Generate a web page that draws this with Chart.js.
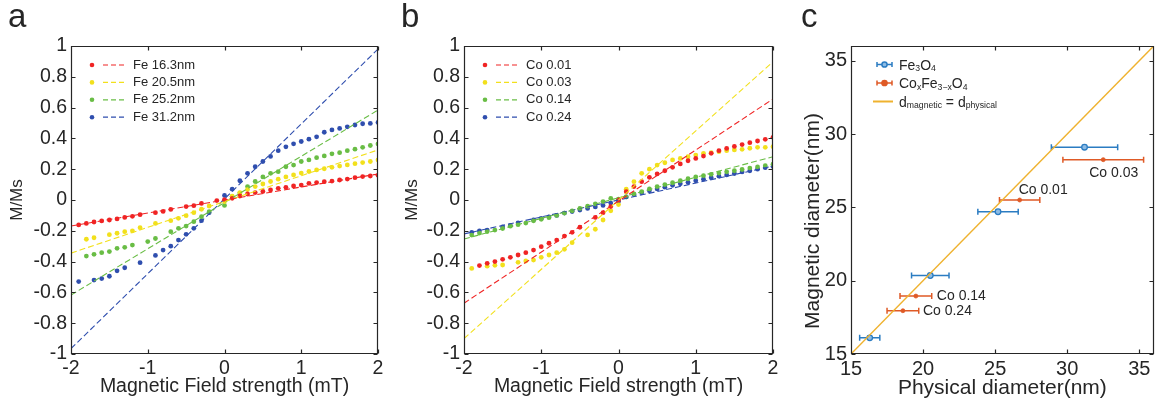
<!DOCTYPE html>
<html>
<head>
<meta charset="utf-8">
<script src="https://cdn.jsdelivr.net/npm/chart.js@4.4.1/dist/chart.umd.min.js"></script>
<style>
  body { margin: 0; background: #fff; }
  #wrap { position: relative; width: 1159px; height: 406px; overflow: hidden; font-family: "Liberation Sans", Arial, sans-serif; }
  canvas { position: absolute; top: 0; }
  .lbl { position: absolute; top: 0; font-size: 33px; line-height: 32px; color: #262626; }
</style>
</head>
<body>
<div id="wrap">
  <canvas id="ca" width="390" height="406" style="left:0px"></canvas>
  <canvas id="cb" width="390" height="406" style="left:395px"></canvas>
  <canvas id="cc" width="379" height="406" style="left:780px"></canvas>
  <div class="lbl" style="left:8px">a</div>
  <div class="lbl" style="left:401px">b</div>
  <div class="lbl" style="left:801px">c</div>
</div>
<script>
// field values (mT) shared by panels a and b
const field = [-1.9,-1.8,-1.7,-1.6,-1.5,-1.4,-1.3,-1.2,-1.1,-1.0,-0.9,-0.8,-0.7,-0.6,-0.5,-0.4,-0.3,-0.2,-0.1,
  0,
  0.1,0.2,0.3,0.4,0.5,0.6,0.7,0.8,0.9,1.0,1.1,1.2,1.3,1.4,1.5,1.6,1.7,1.8,1.9,2.0];

// panel a: M/Ms for Fe3O4 sizes
const namesA = ['Fe 16.3nm', 'Fe 20.5nm', 'Fe 25.2nm', 'Fe 31.2nm'];
const fe163 = [-0.162,-0.152,-0.143,-0.136,-0.130,-0.123,-0.113,-0.106,-0.095,null,-0.082,-0.074,-0.061,null,-0.043,-0.037,-0.022,null,-0.004,
  0.003,
  0.011,0.026,0.039,0.048,0.056,0.065,0.076,0.082,0.091,0.097,0.108,0.113,0.119,0.123,0.130,0.136,0.145,0.152,0.156,0.160];
const fe205 = [null,-0.255,-0.245,null,-0.225,-0.216,-0.206,-0.200,-0.180,null,-0.152,null,-0.134,-0.119,-0.102,-0.082,-0.060,-0.039,null,
  -0.010,
  0.025,0.048,0.068,0.087,0.104,0.120,0.135,0.150,0.163,0.175,0.185,0.195,0.203,0.212,0.220,0.228,0.236,0.243,0.250,0.260];
const fe252 = [null,-0.364,-0.353,-0.342,-0.335,-0.314,-0.307,-0.293,null,-0.270,-0.250,null,-0.206,-0.184,-0.169,-0.141,-0.108,-0.076,null,
  -0.035,
  0.022,0.045,0.087,0.120,0.150,0.173,0.184,0.216,0.227,0.250,0.260,0.275,0.286,0.300,0.307,0.320,0.330,0.342,0.354,0.364];
const fe312 = [-0.530,null,-0.520,-0.510,-0.495,-0.460,-0.440,null,-0.407,null,-0.360,-0.325,-0.300,-0.260,-0.223,-0.184,-0.134,-0.082,null,
  0.030,
  0.070,0.125,0.173,0.216,0.250,0.283,0.320,0.345,0.365,0.380,0.395,0.410,0.440,0.455,0.465,0.475,0.487,0.495,0.497,0.504];

// panel b: M/Ms for Co doped
const namesB = ['Co 0.01', 'Co 0.03', 'Co 0.14', 'Co 0.24'];
const co001 = [null,-0.426,-0.411,-0.400,-0.385,-0.372,-0.357,-0.342,-0.325,-0.303,-0.281,-0.260,-0.234,-0.210,-0.177,null,-0.113,-0.082,-0.043,
  0.000,
  0.054,0.087,0.119,0.147,0.169,0.190,0.212,0.234,0.255,0.270,0.285,0.303,0.320,0.335,0.348,0.360,0.372,0.383,0.394,0.407];
const co003 = [-0.444,null,-0.430,-0.424,-0.422,null,-0.405,-0.396,-0.390,-0.372,-0.357,-0.342,-0.320,-0.277,null,-0.227,-0.190,-0.130,-0.070,
  -0.030,
  0.070,0.119,0.173,0.200,0.227,0.242,0.260,0.270,0.281,0.292,0.303,0.307,0.314,0.320,0.325,0.329,0.336,0.342,0.342,0.346];
const co014 = [-0.228,-0.215,-0.205,-0.195,-0.185,-0.170,-0.160,-0.150,-0.135,-0.125,-0.115,-0.100,-0.085,-0.070,-0.055,-0.040,-0.025,-0.010,0.010,
  0.005,
  0.020,0.040,0.055,0.072,0.087,0.100,0.112,0.125,0.138,0.150,0.158,0.167,0.175,0.183,0.190,0.198,0.207,0.215,0.223,0.232];
const co024 = [-0.210,-0.200,-0.195,null,-0.175,-0.165,-0.148,null,-0.130,-0.120,-0.110,-0.100,-0.085,-0.075,-0.065,-0.055,-0.045,-0.035,-0.020,
  -0.010,
  0.020,0.035,0.047,0.060,0.072,0.083,0.095,0.105,0.115,0.125,0.135,0.145,0.155,0.163,0.172,0.182,0.190,0.200,0.210,0.218];

// linear fits, values at the ends of the field range
const fitField = [-2, 2];
const fitA = [[-0.169, 0.169], [-0.345, 0.325], [-0.617, 0.584], [-0.965, 0.98]];
const fitB = [[-0.67, 0.656], [-0.9, 0.898], [-0.253, 0.281], [-0.22, 0.22]];

// ticks
const fieldTicks = [-2, -1, 0, 1, 2];
const mTicks = [-1, -0.8, -0.6, -0.4, -0.2, 0, 0.2, 0.4, 0.6, 0.8, 1];
const diamTicks = [15, 20, 25, 30, 35];

// panel c: magnetic vs physical diameter (nm)
const physFe = [16.3, 20.5, 25.2, 31.2];
const magFe = [16.1, 20.35, 24.7, 29.1];
const errFe = [0.7, 1.3, 1.4, 2.3];
const coLabels = ['Co 0.01', 'Co 0.03', 'Co 0.14', 'Co 0.24'];
const physCo = [26.7, 32.5, 19.5, 18.6];
const magCo = [25.5, 28.25, 18.95, 17.95];
const errCo = [1.4, 2.8, 1.1, 1.1];
const idealLine = [15, 36];

const colors4 = ['#f02424', '#f2e01c', '#69bd45', '#2f4eae'];
const BLUE = '#2b7cc2', ORANGE = '#df5a26', GOLD = '#efb22f';
const FONT = '"Liberation Sans", Arial, sans-serif';
const INK = '#262626';

Chart.defaults.font.family = FONT;
Chart.defaults.color = INK;

function pts(xs, ys) {
  return xs.map((x, i) => ys[i] == null ? null : {x: x, y: ys[i]}).filter(Boolean);
}

function scale(pos, min, max, tickVals, title, tickSize, titleSize, fit, titlePad) {
  return {
    type: 'linear', position: pos, min: min, max: max,
    grid: {display: false, drawTicks: false},
    border: {display: false},
    afterBuildTicks: s => { s.ticks = tickVals.map(v => ({value: v})); },
    ticks: {font: {size: tickSize}, padding: pos === 'left' ? 4 : 3, color: INK, autoSkip: false, maxRotation: 0,
      callback: v => String(v)},
    title: {display: !!title, text: title, font: {size: titleSize}, color: INK, padding: titlePad},
    afterFit: s => {
      if (pos === 'left') s.width = fit; else s.height = fit;
      s.paddingLeft = 0; s.paddingRight = 0; s.paddingTop = 0; s.paddingBottom = 0;
    }
  };
}

// box with inward ticks on all four sides
const frame = {
  id: 'frame',
  afterDatasetsDraw(chart) {
    const {ctx, chartArea: a, scales: {x, y}} = chart;
    const L = Math.round(a.left) + 0.5, R = Math.round(a.right) - 0.5;
    const T = Math.round(a.top) + 0.5, B = Math.round(a.bottom) - 0.5;
    ctx.save();
    ctx.strokeStyle = INK;
    ctx.lineWidth = 1.2;
    ctx.beginPath();
    ctx.rect(L, T, R - L, B - T);
    x.ticks.forEach(t => {
      const p = Math.round(x.getPixelForValue(t.value)) + 0.5;
      ctx.moveTo(p, B); ctx.lineTo(p, B - 4);
      ctx.moveTo(p, T); ctx.lineTo(p, T + 4);
    });
    y.ticks.forEach(t => {
      const p = Math.round(y.getPixelForValue(t.value)) + 0.5;
      ctx.moveTo(L, p); ctx.lineTo(L + 4, p);
      ctx.moveTo(R, p); ctx.lineTo(R - 4, p);
    });
    ctx.stroke();
    ctx.restore();
  }
};

// legend: dot + dashed line + name
const dotLegend = {
  id: 'dotLegend',
  afterDraw(chart, args, o) {
    if (!o.names) return;
    const {ctx, chartArea: a} = chart;
    ctx.save();
    ctx.font = o.size + 'px ' + FONT;
    ctx.textBaseline = 'middle';
    o.names.forEach((n, i) => {
      const y = a.top + o.top + i * o.gap;
      ctx.fillStyle = o.colors[i];
      ctx.beginPath(); ctx.arc(a.left + o.dotX, y, 2.3, 0, Math.PI * 2); ctx.fill();
      ctx.strokeStyle = o.colors[i]; ctx.lineWidth = 1.2; ctx.setLineDash([5, 3]);
      ctx.beginPath(); ctx.moveTo(a.left + o.lineX0, y); ctx.lineTo(a.left + o.lineX1, y); ctx.stroke();
      ctx.setLineDash([]);
      ctx.fillStyle = INK;
      ctx.fillText(n, a.left + o.textX, y);
    });
    ctx.restore();
  }
};

function rich(ctx, parts, x, y, size) {
  parts.forEach(p => {
    const s = p.sub ? size * 0.62 : size;
    ctx.font = s + 'px ' + FONT;
    ctx.fillText(p.t, x, y + (p.sub ? 1.5 : 0));
    x += ctx.measureText(p.t).width;
  });
}

// horizontal error bars for panel c
const errBars = {
  id: 'errBars',
  beforeDatasetsDraw(chart) {
    const {ctx, scales: {x, y}} = chart;
    chart.data.datasets.forEach(ds => {
      if (!ds.errX) return;
      ctx.save();
      ctx.strokeStyle = ds.borderColor;
      ctx.lineWidth = 1.5;
      ds.data.forEach((p, i) => {
        const py = y.getPixelForValue(p.y);
        const x0 = x.getPixelForValue(p.x - ds.errX[i]), x1 = x.getPixelForValue(p.x + ds.errX[i]);
        ctx.beginPath();
        ctx.moveTo(x0, py); ctx.lineTo(x1, py);
        ctx.moveTo(x0, py - 3); ctx.lineTo(x0, py + 3);
        ctx.moveTo(x1, py - 3); ctx.lineTo(x1, py + 3);
        ctx.stroke();
      });
      ctx.restore();
    });
  }
};

// point labels, y title and legend for panel c
const cExtras = {
  id: 'cExtras',
  afterDraw(chart, args, o) {
    if (!o.labels) return;
    const {ctx, chartArea: a, scales: {x, y}} = chart;
    ctx.save();
    ctx.fillStyle = INK;
    ctx.font = '14px ' + FONT;
    ctx.textBaseline = 'middle';
    const ds = chart.data.datasets[o.labelSet];
    ds.data.forEach((p, i) => {
      const off = o.offsets[i];
      ctx.fillText(o.labels[i], x.getPixelForValue(p.x) + off[0], y.getPixelForValue(p.y) + off[1]);
    });
    // y title, sitting a little below the middle as in the source
    ctx.save();
    ctx.translate(o.yTitleX, (a.top + a.bottom) / 2 + o.yTitleShift);
    ctx.rotate(-Math.PI / 2);
    ctx.textAlign = 'center';
    ctx.font = '21px ' + FONT;
    ctx.fillText(o.yTitle, 0, 0);
    ctx.restore();
    // legend
    ctx.textBaseline = 'alphabetic';
    o.legend.forEach((it, i) => {
      const cy = a.top + o.top + i * o.gap;
      const x0 = a.left + 26, x1 = a.left + 41;
      ctx.strokeStyle = it.color;
      ctx.lineWidth = 1.5;
      ctx.beginPath();
      if (it.line) {
        ctx.lineWidth = 2;
        ctx.moveTo(a.left + 22, cy); ctx.lineTo(a.left + 42, cy);
      } else {
        ctx.moveTo(x0, cy); ctx.lineTo(x1, cy);
        ctx.moveTo(x0, cy - 2.5); ctx.lineTo(x0, cy + 2.5);
        ctx.moveTo(x1, cy - 2.5); ctx.lineTo(x1, cy + 2.5);
      }
      ctx.stroke();
      if (!it.line) {
        ctx.fillStyle = it.fill;
        ctx.beginPath(); ctx.arc((x0 + x1) / 2, cy, 2.6, 0, Math.PI * 2); ctx.fill(); ctx.stroke();
      }
      ctx.fillStyle = INK;
      rich(ctx, it.parts, a.left + 48, cy + 5, 14);
    });
    ctx.restore();
  }
};

function mPanel(id, names, series, fits) {
  const datasets = [];
  series.forEach((s, i) => {
    datasets.push({
      data: [{x: fitField[0], y: fits[i][0]}, {x: fitField[1], y: fits[i][1]}],
      showLine: true, borderColor: colors4[i], borderWidth: 1.1, borderDash: [6, 3], pointRadius: 0, fill: false
    });
  });
  series.forEach((s, i) => {
    datasets.push({
      data: pts(field, s), showLine: false, pointRadius: 2.4, pointBorderWidth: 0,
      backgroundColor: colors4[i], borderColor: colors4[i]
    });
  });
  new Chart(document.getElementById(id), {
    type: 'scatter',
    data: {datasets: datasets},
    options: {
      responsive: false, animation: false, events: [],
      layout: {padding: {top: 46, right: 12, left: 0, bottom: 0}},
      plugins: {
        legend: {display: false}, tooltip: {enabled: false},
        dotLegend: {names: names, colors: colors4, size: 13, top: 19, gap: 17.4, dotX: 21, lineX0: 32, lineX1: 54, textX: 62}
      },
      scales: {
        x: scale('bottom', -2, 2, fieldTicks, 'Magnetic Field strength (mT)', 19.5, 19.5, 52, {top: 0, bottom: 8}),
        y: scale('left', -1, 1, mTicks, 'M/Ms', 19.5, 17, id === 'ca' ? 71 : 69, {top: 7, bottom: 0})
      }
    },
    plugins: [frame, dotLegend]
  });
}

mPanel('ca', namesA, [fe163, fe205, fe252, fe312], fitA);
mPanel('cb', namesB, [co001, co003, co014, co024], fitB);

new Chart(document.getElementById('cc'), {
  type: 'scatter',
  data: {
    datasets: [
      {data: pts(idealLine, idealLine), showLine: true, borderColor: GOLD, borderWidth: 1.4, pointRadius: 0},
      {data: pts(physFe, magFe), errX: errFe, showLine: false, pointRadius: 2.8, borderColor: BLUE,
        backgroundColor: '#8dbbe4', pointBorderWidth: 1.3},
      {data: pts(physCo, magCo), errX: errCo, showLine: false, pointRadius: 2, borderColor: ORANGE,
        backgroundColor: ORANGE, pointBorderWidth: 0.8}
    ]
  },
  options: {
    responsive: false, animation: false, events: [],
    layout: {padding: {top: 46, right: 1, left: 0, bottom: 0}},
    plugins: {
      legend: {display: false}, tooltip: {enabled: false},
      cExtras: {
        labels: coLabels, labelSet: 2,
        offsets: [[-1, -10], [-14, 13], [21, 0], [20, 0]],
        yTitle: 'Magnetic diameter(nm)', yTitleX: 33, yTitleShift: 21,
        top: 18.5, gap: 18.5,
        legend: [
          {color: BLUE, fill: '#8dbbe4', parts: [{t: 'Fe'}, {t: '3', sub: true}, {t: 'O'}, {t: '4', sub: true}]},
          {color: ORANGE, fill: ORANGE, parts: [{t: 'Co'}, {t: 'x', sub: true}, {t: 'Fe'}, {t: '3\u2212x', sub: true}, {t: 'O'}, {t: '4', sub: true}]},
          {color: GOLD, line: true, parts: [{t: 'd'}, {t: 'magnetic', sub: true}, {t: ' = d'}, {t: 'physical', sub: true}]}
        ]
      }
    },
    scales: {
      x: scale('bottom', 15, 36, diamTicks, 'Physical diameter(nm)', 20, 21, 52, {top: 0, bottom: 5}),
      y: scale('left', 15, 36, diamTicks, '', 20, 21, 71, {top: 0, bottom: 0})
    }
  },
  plugins: [errBars, frame, cExtras]
});
</script>
</body>
</html>
